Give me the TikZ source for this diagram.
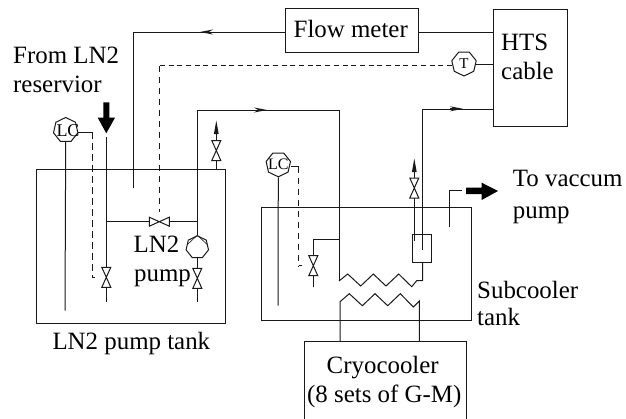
\documentclass[tikz,border=0pt]{standalone}
\usepackage{fontspec}
\setmainfont{Liberation Serif}
\usetikzlibrary{shapes.geometric,arrows.meta,calc}
\tikzset{
  x=1pt,y=-1pt,
  pipe/.style={line width=1pt,draw=black!90,line join=miter},
  thin pipe/.style={line width=0.6pt,draw=black!90},
  sig/.style={pipe,dash pattern=on 6.5pt off 4.5pt},
  sigh/.style={pipe,dash pattern=on 5pt off 3.7pt},
  box/.style={draw=black!90,line width=1pt,rectangle,inner sep=0pt,anchor=north west},
  lbl/.style={anchor=base west,inner sep=0pt,font=\fontsize{24.9}{26}\selectfont},
  inst/.style={draw=black!90,line width=1pt,regular polygon,regular polygon sides=7,minimum size=25pt,inner sep=0pt},
  flipped/.style={shape border rotate=180},
  flow/.style={-{Stealth[length=13pt,width=5pt]}},
  vv/.pic={\draw[pipe,fill=white] (-4.5,-10)--(4.5,-10)--(-4.5,10)--(4.5,10)--cycle;},
  hv/.pic={\draw[pipe,fill=white] (-10,-4.5)--(-10,4.5)--(10,-4.5)--(10,4.5)--cycle;},
  up/.pic={\fill[black!90] (0,-7)--(2.4,6.5)--(-2.4,6.5)--cycle;},
}
\begin{document}
\begin{tikzpicture}
\useasboundingbox (0,0) rectangle (626,418);
% boxes
\node[box,minimum width=133pt,minimum height=44pt] (fm) at (285,8) {};
\node[box,minimum width=74pt,minimum height=117pt] (hts) at (493,9) {};
\node[box,minimum width=188.5pt,minimum height=154pt] (t1) at (36,169) {};
\node[box,minimum width=210pt,minimum height=113pt] (t2) at (261,207) {};
\node[box,minimum width=19.6pt,minimum height=28.6pt] (sep) at (411.7,233.7) {};
% cryocooler: open at the lower edge of the picture
\coordinate (cA) at (304,419); \coordinate (cB) at (304,341);
\coordinate (cC) at (466,341); \coordinate (cD) at (466,419);
\draw[pipe] (cA)--(cB)--(cC)--(cD);
% labels
\node[lbl] (tfm) at (293.5,37) {Flow meter};
\node[lbl] (th1) at (501,50) {HTS};
\node[lbl] (th2) at (501,79) {cable};
\node[lbl] (tf1) at (13,63.3) {From LN2};
\node[lbl] (tf2) at (13,92) {reservior};
\node[lbl] (tl1) at (133.5,252.7) {LN2};
\node[lbl] (tl2) at (134,281.5) {pump};
\node[lbl] (tt1) at (52.3,349) {LN2 pump tank};
\node[lbl] (tv1) at (512.7,186.7) {To vaccum};
\node[lbl] (tv2) at (512.7,218) {pump};
\node[lbl] (ts1) at (477,298) {Subcooler};
\node[lbl] (ts2) at (477,325.7) {tank};
\node[lbl] (tc1) at (326.5,373.3) {Cryocooler};
\node[lbl] (tc2) at (307,402.3) {(8 sets of G-M)};
% instruments
\node[inst] (lc1) at (65.7,130) {};
\node[font=\fontsize{18}{18}\selectfont,inner sep=0pt] (lc1t) at (68,130.5) {LC};
\node[inst,flipped] (lc2) at (278.3,164.3) {};
\node[font=\fontsize{16}{16}\selectfont,inner sep=0pt] (lc2t) at (278.3,164.5) {LC};
\node[inst,flipped] (tt) at (464,63.5) {};
\node[font=\fontsize{15}{15}\selectfont,inner sep=0pt] (ttt) at (464,64) {T};
\node[inst,minimum size=23pt] (pump) at (197.3,247.3) {};
% return line
\coordinate (r1) at (133.7,32); \coordinate (r2) at (133.7,188);
\draw[pipe] (fm.west |- 0,32)--(r1)--(r2);
\draw[pipe,flow] (213,32)--(200,32);
\draw[pipe] (fm.east |- 0,32)--(hts.west |- 0,32);
% temperature
\draw[pipe] (tt.east |- 0,64)--(hts.west |- 0,64);
\coordinate (d1) at (159.3,65.5); \coordinate (hv1) at (159.3,221.7);
\draw[sigh] (tt.west |- 0,65.5)--(d1);
\draw[sig] (d1)--(159.3,212);
% pump line
\coordinate (p1) at (197.3,110); \coordinate (p2) at (339,110);
\draw[pipe] (pump.north)--(p1)--(p2)--(339,281);
\draw[pipe,flow] (254,110)--(267,110);
\draw[pipe] (339,281)--(347.7,274)--(360.7,286)--(373.3,274)--(386,286)--(398.7,274)--(411.7,286.7)--(416.7,280.7)--(422.7,280.7)--(422.7,262.3);
\draw[pipe] (422.7,250)--(422.7,109)--(hts.west |- 0,109);
\draw[pipe,flow] (450,108.8)--(463,108.8);
% LN2 inlet
\coordinate (i1) at (106.3,137.3); \coordinate (i2) at (106.3,301.7);
\draw[pipe] (i1)--(i2);
\coordinate (j1) at (106.3,221.7); \coordinate (j2) at (197.3,221.7);
\draw[pipe] (j1)--(j2);
\pic at (hv1) {hv};
\pic at (106.3,277.3) {vv};
\draw[pipe] (pump.south)--(197.3,301.7);
\pic at (197.3,278.3) {vv};
% pump symbol
\draw[thin pipe] (pump.north)--(207.2,244.5);
\draw[thin pipe] (pump.north)--(187.4,244.5);
% vent 1
\draw[pipe] (216.3,169)--(216.3,134);
\pic at (216.3,150.5) {vv};
\pic at (216.3,127.5) {up};
% LC1
\draw[pipe] (lc1.south)--(65,310.7);
\draw[pipe] (78,132)--(92,132);
\draw[sig] (92,132)--(92,277);
\draw[pipe] (92,277)--(95,277);
% LC2
\draw[pipe] (lc2.south)--(278,305.7);
\draw[pipe] (291,166.5)--(298.7,166.5);
\draw[sig] (298.7,166.5)--(298.7,265.7);
\draw[pipe] (298.7,265.7)--(302,265.7);
\draw[pipe] (313.3,287)--(313.3,239.3)--(339,239.3);
\pic at (313.3,265.7) {vv};
% vent 2
\draw[pipe] (414.3,240.7)--(414.3,172);
\pic at (414.3,188) {vv};
\pic at (414.3,165.5) {up};
% lower coil
\draw[pipe] (cB -| 340,0)--(340,301.7)--(349.3,293.7)--(362.3,305.7)--(375,293.7)--(387.7,305.7)--(400.3,293.7)--(413.3,307)--(419.3,301)--(cB -| 419.3,0);
% vacuum line
\draw[pipe] (449,227.3)--(449,190.7)--(462,190.7);
% heavy arrows
\fill[black] (103.3,102.3)--(109.3,102.3)--(109.3,117.7)--(115,117.7)--(106.3,133.3)--(97.7,117.7)--(103.3,117.7)--cycle;
\fill[black] (466,187.7)--(481.7,187.7)--(481.7,182.7)--(498,191)--(481.7,200)--(481.7,194)--(466,194)--cycle;
\end{tikzpicture}
\end{document}
